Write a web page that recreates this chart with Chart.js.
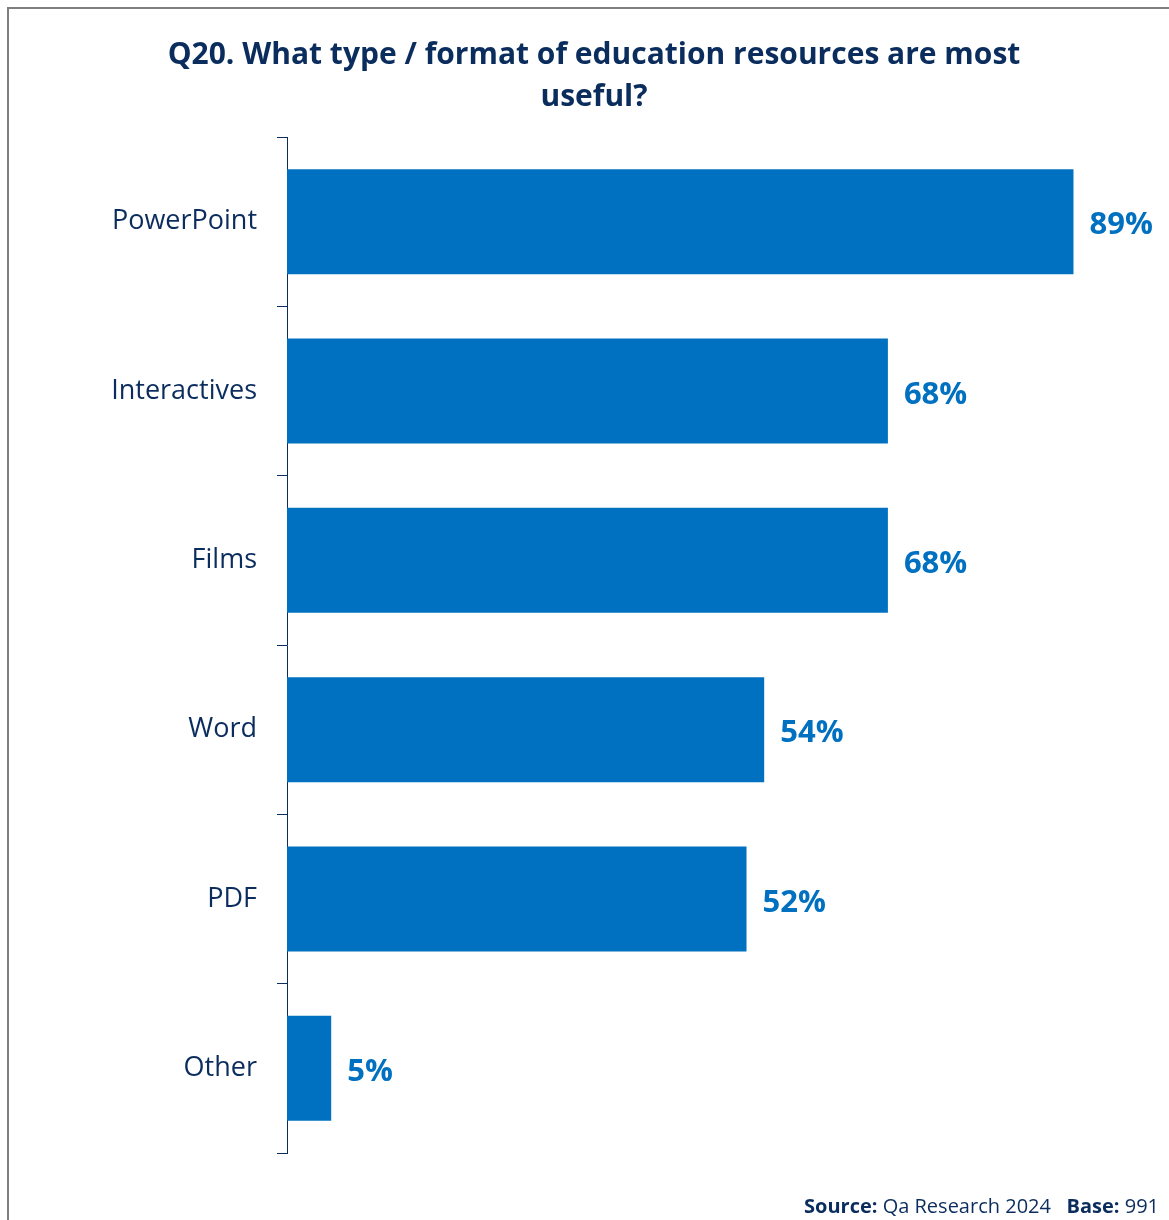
<!DOCTYPE html>
<html>
<head>
<meta charset="utf-8">
<script src="https://cdn.jsdelivr.net/npm/chart.js@4"></script>
<style>
  html, body { margin: 0; padding: 0; background: #fff; }
  #wrap { width: 1169px; height: 1220px; position: relative; }
</style>
</head>
<body>
<div id="wrap"><canvas id="chart"></canvas></div>
<script>
const categories = ["PowerPoint", "Interactives", "Films", "Word", "PDF", "Other"]
const values = [89, 68, 68, 54, 52, 5]
const titleLines = ["Q20. What type / format of education resources are most", "useful?"]
const sourceText = "Qa Research 2024"
const baseText = "991"

const navy = "#0B2D5E"
const barBlue = "#0070C0"
const fontFamily = "'Open Sans', 'Noto Sans', sans-serif"

// frame, title, footer and value labels
const decorPlugin = {
  id: "decor",
  afterDraw(chart) {
    const ctx = chart.ctx
    ctx.save()

    ctx.strokeStyle = "#7f7f7f"
    ctx.lineWidth = 2
    ctx.beginPath()
    ctx.moveTo(8, 1230)
    ctx.lineTo(8, 8)
    ctx.lineTo(1180, 8)
    ctx.stroke()

    ctx.fillStyle = navy
    ctx.font = "bold 30px " + fontFamily
    ctx.textAlign = "center"
    ctx.textBaseline = "middle"
    ctx.fillText(titleLines[0], 594, 55)
    ctx.fillText(titleLines[1], 594, 97)

    // value labels at the end of each bar
    const meta = chart.getDatasetMeta(0)
    ctx.font = "bold 31px " + fontFamily
    ctx.fillStyle = barBlue
    ctx.textAlign = "left"
    meta.data.forEach((bar, i) => {
      ctx.fillText(values[i] + "%", bar.x + 16, bar.y + 4)
    })

    // footer
    ctx.textBaseline = "alphabetic"
    ctx.textAlign = "left"
    const parts = [
      ["bold", "Source: "],
      ["normal", sourceText + "   "],
      ["bold", "Base: "],
      ["normal", baseText]
    ]
    let total = 0
    parts.forEach(p => {
      ctx.font = p[0] + " 20px " + fontFamily
      total += ctx.measureText(p[1]).width
    })
    let x = 1159 - total
    ctx.fillStyle = navy
    parts.forEach(p => {
      ctx.font = p[0] + " 20px " + fontFamily
      ctx.fillText(p[1], x, 1213)
      x += ctx.measureText(p[1]).width
    })
    ctx.restore()
  }
}

new Chart(document.getElementById("chart"), {
  type: "bar",
  data: {
    labels: categories,
    datasets: [{
      data: values,
      backgroundColor: barBlue,
      borderWidth: 0,
      categoryPercentage: 1,
      barPercentage: 0.62
    }]
  },
  options: {
    indexAxis: "y",
    responsive: true,
    maintainAspectRatio: false,
    animation: false,
    layout: {
      padding: { top: 137, bottom: 67, left: 0, right: 16 }
    },
    plugins: {
      legend: { display: false },
      tooltip: { enabled: false }
    },
    scales: {
      x: {
        display: false,
        min: 0,
        max: 98
      },
      y: {
        afterFit: (scale) => { scale.width = 287 },
        border: { color: navy, width: 1 },
        grid: {
          drawOnChartArea: false,
          color: navy,
          tickLength: 10,
          offset: true
        },
        ticks: {
          color: navy,
          padding: 20,
          font: { family: fontFamily, size: 27 }
        }
      }
    }
  },
  plugins: [decorPlugin]
})
</script>
</body>
</html>
